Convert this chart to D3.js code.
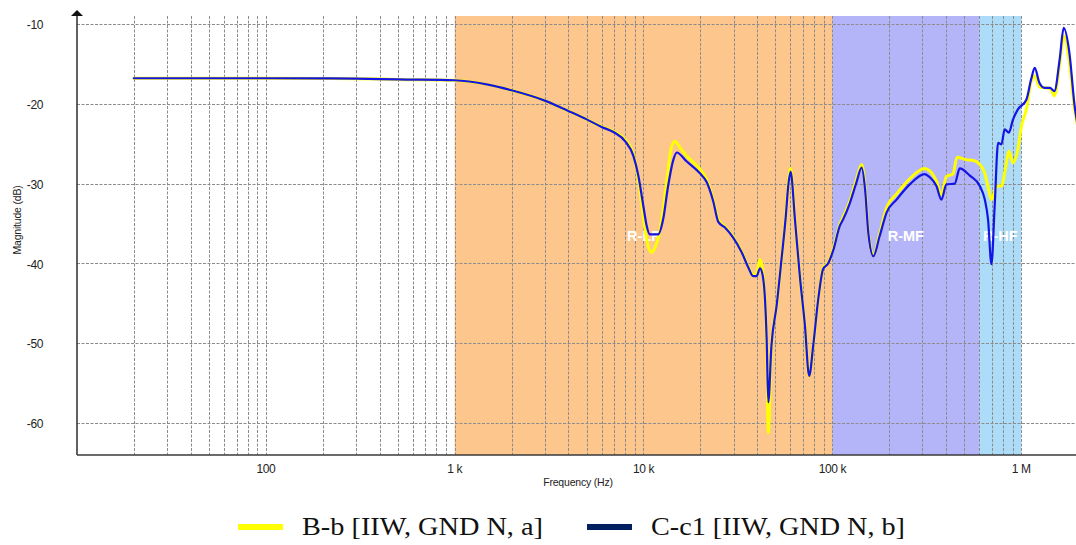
<!DOCTYPE html>
<html>
<head>
<meta charset="utf-8">
<script src="https://cdn.jsdelivr.net/npm/d3@7"></script>
<style>
  html, body { margin: 0; padding: 0; background: #fff; }
  svg { display: block; }
</style>
</head>
<body>
<svg id="chart" width="1076" height="545"></svg>
<script>
// Frequency response magnitude, two measurement configurations: [frequency Hz, magnitude dB]
const seriesNames = ["B-b [IIW, GND N, a]", "C-c1 [IIW, GND N, b]"];

const magB = [
  [20,-16.8],[50,-16.8],[100,-16.8],[200,-16.82],[300,-16.85],[500,-16.95],[1000,-17.05],
  [1500,-17.6],[2000,-18.3],[3000,-19.6],[4000,-20.9],[5000,-21.95],[6000,-22.85],[7000,-23.5],
  [8000,-24.5],[8830,-26.3],[9390,-29.5],[9900,-33.5],[10400,-37.0],[11000,-38.6],[11600,-37.8],
  [12300,-35.5],[12900,-32.0],[13500,-28.2],[14000,-25.6],[14700,-24.7],[15500,-25.4],[16900,-26.5],
  [19900,-28.2],[21600,-29.5],[23400,-32.0],[24900,-34.5],[27000,-35.4],[29900,-36.7],[33100,-38.5],
  [35900,-40.4],[38100,-41.4],[39700,-41.2],[41400,-39.5],[42700,-40.8],[44000,-44.5],[44900,-50.0],
  [45800,-61.2],[47600,-50.3],[50700,-45.3],[53800,-39.5],[56700,-34.0],[58400,-30.0],[60100,-28.1],
  [63400,-34.5],[67300,-41.6],[71600,-47.8],[75400,-54.1],[79200,-50.3],[84200,-44.5],[89400,-40.6],
  [95000,-39.9],[101000,-38.2],[109600,-35.1],[114000,-34.2],[124000,-32.1],[134000,-29.5],
  [143000,-27.6],[149000,-30.4],[155000,-36.0],[165000,-39.0],[178000,-36.3],[194000,-33.0],
  [219000,-31.3],[257000,-29.4],[308000,-28.1],[328000,-28.4],[356000,-29.7],[378000,-31.4],
  [402000,-29.1],[435000,-28.8],[458000,-26.7],[513000,-27.0],[560000,-27.1],[604000,-27.6],
  [640000,-28.6],[668000,-30.4],[696000,-32.0],[745000,-30.3],[786000,-30.3],[830000,-27.8],
  [861000,-25.9],[904000,-27.4],[961000,-25.7],[1000000,-23.0],[1065000,-20.7],[1130000,-17.2],
  [1180000,-16.5],[1250000,-17.9],[1420000,-18.1],[1500000,-19.0],[1600000,-15.0],[1680000,-11.5],
  [1800000,-14.8],[1920000,-20.8],[2000000,-23.0]
];

const magC = [
  [20,-16.8],[50,-16.8],[100,-16.8],[200,-16.82],[300,-16.85],[500,-16.95],[1000,-17.05],
  [1500,-17.6],[2000,-18.3],[3000,-19.6],[4000,-20.9],[5000,-21.95],[6000,-22.9],[7000,-23.6],
  [8000,-24.7],[8830,-26.5],[9390,-29.0],[9980,-32.8],[10400,-35.3],[10800,-36.35],[11970,-36.35],
  [12700,-34.5],[13500,-30.3],[14400,-27.0],[15000,-26.1],[16900,-27.2],[19900,-28.7],[21600,-29.8],
  [23400,-32.2],[24900,-34.8],[27000,-35.5],[29900,-36.8],[33100,-38.6],[35900,-40.5],[38100,-41.6],
  [39700,-41.6],[41400,-40.6],[42700,-41.4],[44000,-44.5],[44900,-49.5],[45800,-57.4],[47600,-50.3],
  [50700,-45.3],[53800,-39.5],[56700,-34.1],[58400,-30.3],[60100,-28.5],[63400,-34.5],[67300,-41.6],
  [71600,-47.8],[75400,-54.1],[79200,-50.3],[84200,-44.5],[89400,-40.7],[95000,-40.0],[101000,-38.4],
  [109600,-35.3],[114000,-34.5],[124000,-32.4],[134000,-29.9],[143000,-28.0],[149000,-30.7],
  [155000,-36.1],[165000,-39.1],[178000,-36.6],[194000,-33.6],[219000,-32.0],[257000,-30.1],
  [308000,-28.8],[328000,-29.2],[356000,-30.3],[378000,-32.0],[402000,-30.1],[445000,-30.0],
  [473000,-28.1],[535000,-29.0],[604000,-30.3],[642000,-32.0],[668000,-34.5],[696000,-40.1],
  [724000,-32.8],[755000,-24.9],[786000,-25.1],[818000,-23.2],[861000,-23.6],[904000,-22.0],
  [961000,-20.7],[1065000,-19.5],[1130000,-16.9],[1180000,-15.5],[1250000,-17.4],[1330000,-18.0],
  [1420000,-18.0],[1500000,-18.4],[1600000,-14.4],[1680000,-10.5],[1800000,-13.6],[1920000,-20.3],
  [2000000,-23.0]
];

// Frequency ranges shaded behind the curves
const bandNames = ["R-LF", "R-MF", "R-HF"];
const bandStart = [1000, 100000, 600000];
const bandEnd   = [100000, 600000, 1000000];
const bandColors = ["#fdc68c", "#b4b4f9", "#acdcf8"];

// Axis ticks
const yTicks = [-10, -20, -30, -40, -50, -60];
const xTickValues = [100, 1000, 10000, 100000, 1000000];
const xTickLabels = ["100", "1 k", "10 k", "100 k", "1 M"];

const svg = d3.select("#chart");
const plotLeft = 77, plotRight = 1078, plotTop = 16, plotBottom = 455;

const x = d3.scaleLog().domain([10, 2e6]).range([plotLeft, plotRight]);
const y = d3.scaleLinear().domain([-64, -9]).range([plotBottom, plotTop]);

svg.append("defs").append("clipPath").attr("id", "plotClip")
  .append("rect").attr("x", plotLeft).attr("y", plotTop)
  .attr("width", 1076 - plotLeft).attr("height", plotBottom - plotTop);

// Bands
svg.append("g").selectAll("rect").data(bandNames).join("rect")
  .attr("x", (d, i) => x(bandStart[i]))
  .attr("width", (d, i) => x(bandEnd[i]) - x(bandStart[i]))
  .attr("y", plotTop).attr("height", plotBottom - plotTop)
  .attr("fill", (d, i) => bandColors[i]);

// Grid: vertical lines at every 1..9 x 10^n, horizontal at the y ticks
const gridFreqs = [];
for (let p = 1; p <= 6; p++) {
  for (let k = 1; k <= 9; k++) {
    const f = k * Math.pow(10, p);
    if (f > 10 && f <= 1e6) gridFreqs.push(f);
  }
}
const grid = svg.append("g").attr("stroke", "#8c8c8c").attr("stroke-width", 1)
  .attr("stroke-dasharray", "3,1.5");
grid.selectAll("line.v").data(gridFreqs).join("line").attr("class", "v")
  .attr("x1", d => Math.round(x(d)) + 0.5).attr("x2", d => Math.round(x(d)) + 0.5)
  .attr("y1", plotTop).attr("y2", plotBottom);
grid.selectAll("line.h").data(yTicks).join("line").attr("class", "h")
  .attr("x1", plotLeft).attr("x2", 1076)
  .attr("y1", d => Math.round(y(d)) + 0.5).attr("y2", d => Math.round(y(d)) + 0.5);

// Band labels
svg.append("g").selectAll("text").data(bandNames).join("text")
  .attr("x", (d, i) => x(Math.sqrt(bandStart[i] * bandEnd[i])))
  .attr("y", y(-36.5))
  .attr("dy", "0.35em")
  .attr("text-anchor", "middle")
  .attr("font-family", "Liberation Sans, Arial, sans-serif")
  .attr("font-weight", "bold")
  .attr("font-size", 14.5)
  .attr("fill", "#ffffff")
  .text(d => d);

// Curves
const line = d3.line().x(d => x(d[0])).y(d => y(d[1])).curve(d3.curveMonotoneX);
const curves = svg.append("g").attr("clip-path", "url(#plotClip)").attr("fill", "none")
  .attr("stroke-linejoin", "round").attr("stroke-linecap", "round");
curves.append("path").datum(magB).attr("d", line).attr("stroke", "#ffff00").attr("stroke-width", 3);
curves.append("path").datum(magC).attr("d", line).attr("stroke", "#1414e6").attr("stroke-width", 2.2);

// Axes
const axisColor = "#3a3a3a";
svg.append("line").attr("x1", plotLeft).attr("x2", 1076).attr("y1", plotBottom).attr("y2", plotBottom)
  .attr("stroke", axisColor).attr("stroke-width", 1.6);
svg.append("line").attr("x1", plotLeft).attr("x2", plotLeft).attr("y1", plotBottom).attr("y2", 14)
  .attr("stroke", axisColor).attr("stroke-width", 1.6);
svg.append("path").attr("d", d3.line()([[plotLeft - 6, 16], [plotLeft, 10], [plotLeft + 6, 16]]) + "Z")
  .attr("fill", "#111");

const tickFont = "Liberation Sans, Arial, sans-serif";
svg.append("g").selectAll("text").data(yTicks).join("text")
  .attr("x", 43).attr("y", d => y(d) + 1).attr("dy", "0.35em")
  .attr("text-anchor", "end").attr("font-family", tickFont).attr("font-size", 12)
  .attr("letter-spacing", -0.4).attr("fill", "#222").text(d => d);

svg.append("g").selectAll("text").data(xTickValues).join("text")
  .attr("x", d => x(d)).attr("y", 469).attr("dy", "0.35em")
  .attr("text-anchor", "middle").attr("font-family", tickFont).attr("font-size", 12)
  .attr("letter-spacing", -0.4).attr("fill", "#222").text((d, i) => xTickLabels[i]);

svg.append("text").attr("x", 578).attr("y", 482).attr("dy", "0.35em")
  .attr("text-anchor", "middle").attr("font-family", tickFont).attr("font-size", 10.5)
  .attr("letter-spacing", -0.2).attr("fill", "#222").text("Frequency (Hz)");

svg.append("text").attr("transform", "translate(17,220) rotate(-90)").attr("dy", "0.35em")
  .attr("text-anchor", "middle").attr("font-family", tickFont).attr("font-size", 10.5)
  .attr("letter-spacing", -0.2).attr("fill", "#222").text("Magnitude (dB)");

// Legend
const legendX = [238, 587];
const legendColors = ["#ffff00", "#002060"];
const legendWidths = [241, 254];
const legend = svg.append("g").selectAll("g").data(seriesNames).join("g")
  .attr("transform", (d, i) => `translate(${legendX[i]},527)`);
legend.append("rect").attr("x", 0).attr("y", -3).attr("width", 45).attr("height", 6)
  .attr("fill", (d, i) => legendColors[i]);
legend.append("text").attr("x", 64).attr("y", 8)
  .attr("font-family", "Liberation Serif, Times New Roman, serif").attr("font-size", 25)
  .attr("textLength", (d, i) => legendWidths[i]).attr("lengthAdjust", "spacingAndGlyphs")
  .attr("fill", "#111").text(d => d);
</script>
</body>
</html>
